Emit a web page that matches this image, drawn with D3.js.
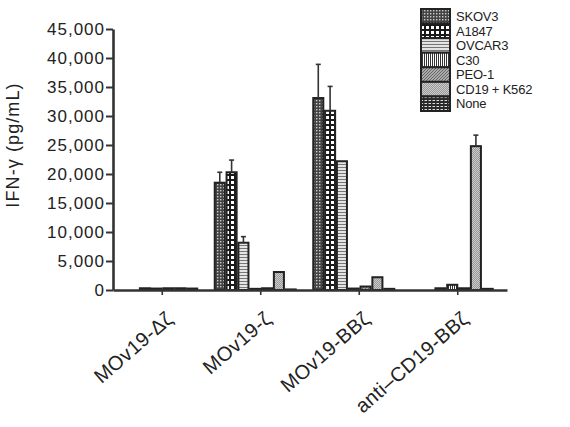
<!DOCTYPE html>
<html>
<head>
<meta charset="utf-8">
<script src="https://cdn.jsdelivr.net/npm/d3@7"></script>
<style>
  body { margin: 0; background: #fff; }
  svg { display: block; }
  text { font-family: "Liberation Sans", Arial, Helvetica, sans-serif; fill: #222; }
</style>
</head>
<body>
<svg id="chart" width="570" height="427"></svg>
<script>
// ---- data ----
const categories = ["MOv19-\u0394\u03b6", "MOv19-\u03b6", "MOv19-BB\u03b6", "anti\u2013CD19-BB\u03b6"];
const series = ["SKOV3", "A1847", "OVCAR3", "C30", "PEO-1", "CD19 + K562", "None"];
const valuesSKOV3   = [0,     18500, 33100, 0];
const valuesA1847   = [0,     20300, 30900, 0];
const valuesOVCAR3  = [300,   8150,  22200, 300];
const valuesC30     = [250,   200,   250,   900];
const valuesPEO1    = [300,   300,   600,   300];
const valuesCD19K562= [300,   3100,  2200,  24800];
const valuesNone    = [250,   100,   200,   200];
const errSKOV3   = [0, 1800, 5800, 0];
const errA1847   = [0, 2100, 4200, 0];
const errOVCAR3  = [0, 1050, 0, 0];
const errC30     = [0, 0, 0, 0];
const errPEO1    = [0, 0, 0, 0];
const errCD19K562= [0, 0, 0, 1900];
const errNone    = [0, 0, 0, 0];
const yTicks = [0, 5000, 10000, 15000, 20000, 25000, 30000, 35000, 40000, 45000];

const seriesValues = [valuesSKOV3, valuesA1847, valuesOVCAR3, valuesC30, valuesPEO1, valuesCD19K562, valuesNone];
const seriesErrors = [errSKOV3, errA1847, errOVCAR3, errC30, errPEO1, errCD19K562, errNone];

const rows = [];
categories.forEach((c, ci) => {
  series.forEach((s, si) => {
    rows.push({cat: c, ser: s, si: si, value: seriesValues[si][ci], err: seriesErrors[si][ci]});
  });
});

const svg = d3.select("#chart");
const defs = svg.append("defs");

// ---- patterns ----
function pat(id, w, h, build) {
  const p = defs.append("pattern").attr("id", id).attr("patternUnits", "userSpaceOnUse")
    .attr("width", w).attr("height", h);
  build(p);
}
pat("p0", 3, 3, p => { p.append("rect").attr("width", 3).attr("height", 3).attr("fill", "#444");
  p.append("rect").attr("x", 1).attr("y", 1).attr("width", 1.4).attr("height", 1.4).attr("fill", "#ccc"); });
pat("p1", 5, 5, p => { p.append("rect").attr("width", 5).attr("height", 5).attr("fill", "#1a1a1a");
  p.append("rect").attr("x", 1).attr("y", 1).attr("width", 3).attr("height", 3).attr("fill", "#fff"); });
pat("p2", 2, 3, p => { p.append("rect").attr("width", 2).attr("height", 3).attr("fill", "#e4e4e4");
  p.append("rect").attr("y", 2).attr("width", 2).attr("height", 1).attr("fill", "#777"); });
pat("p3", 2, 2, p => { p.append("rect").attr("width", 2).attr("height", 2).attr("fill", "#fff");
  p.append("rect").attr("width", 1).attr("height", 2).attr("fill", "#333"); });
pat("p4", 3, 3, p => { p.append("rect").attr("width", 3).attr("height", 3).attr("fill", "#aaa");
  p.append("path").attr("d", "M0,3 L3,0").attr("stroke", "#555").attr("stroke-width", 0.8); });
pat("p5", 2, 2, p => { p.append("rect").attr("width", 2).attr("height", 2).attr("fill", "#ccc");
  p.append("path").attr("d", "M0,2 L2,0").attr("stroke", "#777").attr("stroke-width", 0.6); });
pat("p6", 4, 3, p => { p.append("rect").attr("width", 4).attr("height", 3).attr("fill", "#2a2a2a");
  p.append("rect").attr("x", 0.5).attr("y", 1).attr("width", 2.5).attr("height", 1).attr("fill", "#ddd"); });

// ---- scales ----
const x0 = d3.scaleBand().domain(categories).range([113, 507]).padding(0);
const x1 = d3.scaleBand().domain(series).range([-46, 35]).paddingInner(0.15).paddingOuter(0);
const y = d3.scaleLinear().domain([0, 45000]).range([290, 29]);

// ---- bars ----
const bars = svg.append("g");
bars.selectAll("rect").data(rows).join("rect")
  .attr("x", d => x0(d.cat) + x0.bandwidth() / 2 + x1(d.ser))
  .attr("y", d => y(d.value))
  .attr("width", x1.bandwidth())
  .attr("height", d => y(0) - y(d.value))
  .attr("fill", d => `url(#p${d.si})`)
  .attr("stroke", "#222")
  .attr("stroke-width", 2);

// ---- error bars ----
const errs = svg.append("g").attr("stroke", "#333").attr("stroke-width", 1.6);
rows.filter(d => d.err > 0).forEach(d => {
  const cx = x0(d.cat) + x0.bandwidth() / 2 + x1(d.ser) + x1.bandwidth() / 2;
  errs.append("line").attr("x1", cx).attr("x2", cx).attr("y1", y(d.value)).attr("y2", y(d.value + d.err));
  errs.append("line").attr("x1", cx - 2.5).attr("x2", cx + 2.5).attr("y1", y(d.value + d.err)).attr("y2", y(d.value + d.err));
});

// ---- axes ----
const yAxis = svg.append("g").attr("transform", "translate(113,0)")
  .call(d3.axisLeft(y).tickValues(yTicks).tickFormat(d3.format(",")).tickSize(7).tickSizeOuter(0));
yAxis.select(".domain").attr("stroke", "#333").attr("stroke-width", 2.6);
yAxis.selectAll(".tick line").attr("stroke", "#333").attr("stroke-width", 2);
yAxis.selectAll(".tick text").attr("font-size", 17).attr("letter-spacing", "1px").attr("x", -8).attr("fill", "#222")
  .style("font-family", "'Liberation Sans', Arial, sans-serif");

const xAxis = svg.append("g").attr("transform", "translate(0,290)")
  .call(d3.axisBottom(x0).tickSize(5).tickSizeOuter(0).tickFormat(""));
xAxis.select(".domain").attr("stroke", "#333").attr("stroke-width", 2.6);
xAxis.selectAll(".tick line").attr("stroke", "#333").attr("stroke-width", 1.6);

// x labels rotated
svg.append("g").selectAll("text").data(categories).join("text")
  .attr("transform", d => `translate(${x0(d) + x0.bandwidth() / 2 + 12},321) rotate(-41)`)
  .attr("text-anchor", "end")
  .attr("font-size", 20)
  .attr("letter-spacing", "0.4px")
  .text(d => d);

// y axis title
svg.append("text")
  .attr("transform", "translate(19,145) rotate(-90)")
  .attr("text-anchor", "middle")
  .attr("font-size", 18)
  .attr("letter-spacing", "1.1px")
  .text("IFN-\u03b3 (pg/mL)");

// ---- legend ----
const lg = svg.append("g");
const ly = d3.scaleBand().domain(series).range([9, 111]).padding(0);
lg.selectAll("rect").data(series).join("rect")
  .attr("x", 421).attr("y", d => ly(d)).attr("width", 29).attr("height", ly.bandwidth())
  .attr("fill", (d, i) => `url(#p${i})`).attr("stroke", "#222").attr("stroke-width", 2);
lg.selectAll("text").data(series).join("text")
  .attr("x", 456).attr("y", d => ly(d) + ly.bandwidth() / 2).attr("dy", "0.36em")
  .attr("font-size", 13).attr("letter-spacing", "-0.2px")
  .text(d => d);
</script>
</body>
</html>
